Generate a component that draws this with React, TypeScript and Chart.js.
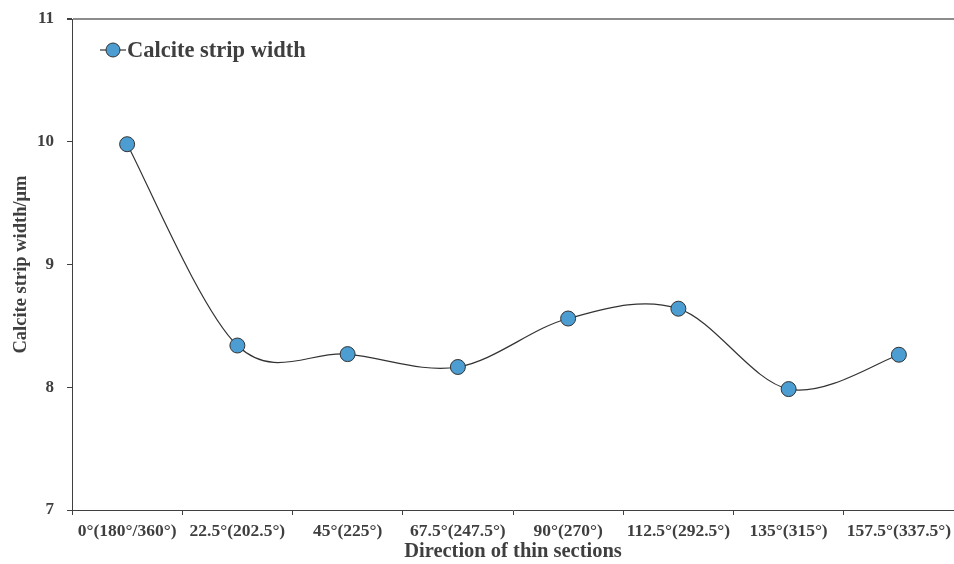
import React, { useEffect, useRef } from "react";
import { Chart, registerables } from "chart.js";

Chart.register(...registerables);

const directions = [
  "0°(180°/360°)",
  "22.5°(202.5°)",
  "45°(225°)",
  "67.5°(247.5°)",
  "90°(270°)",
  "112.5°(292.5°)",
  "135°(315°)",
  "157.5°(337.5°)",
];
const stripWidth = [9.98, 8.34, 8.27, 8.165, 8.56, 8.64, 7.985, 8.265];
const seriesName = "Calcite strip width";
const yTitle = "Calcite strip width/μm";
const xTitle = "Direction of thin sections";

const FONT = "'Liberation Serif', 'Times New Roman', serif";
const TEXT = "#3f3f3f";
const AXIS = "#404040";
const MARKER = "#4b9dd2";
const LINE = "#333333";

// Replace the default bezier control points with uniform Catmull-Rom ones
// (smoothed-line style), computed from the points' scaled positions.
const catmullRom = {
  id: "catmullRom",
  beforeDatasetsDraw(chart: any) {
    chart.data.datasets.forEach((_: any, di: number) => {
      const meta = chart.getDatasetMeta(di);
      const line = meta.dataset;
      if (!line) return;
      line.updateControlPoints(chart.chartArea, "x");
      const pts = meta.data;
      const n = pts.length;
      for (let i = 0; i < n; i++) {
        const p = pts[i];
        const prev = pts[Math.max(i - 1, 0)];
        const next = pts[Math.min(i + 1, n - 1)];
        const dx = (next.x - prev.x) / 6;
        const dy = (next.y - prev.y) / 6;
        p.cp1x = p.x - dx;
        p.cp1y = p.y - dy;
        p.cp2x = p.x + dx;
        p.cp2y = p.y + dy;
      }
    });
  },
};

// Legend drawn inside the plot area, top-left: line, marker and label
const insideLegend = {
  id: "insideLegend",
  afterDraw(chart: any) {
    const { ctx } = chart;
    const label = chart.data.datasets[0].label;
    const y = 50;
    ctx.save();
    ctx.strokeStyle = LINE;
    ctx.lineWidth = 1.2;
    ctx.beginPath();
    ctx.moveTo(100, y);
    ctx.lineTo(126, y);
    ctx.stroke();
    ctx.beginPath();
    ctx.arc(113, y, 7, 0, Math.PI * 2);
    ctx.fillStyle = MARKER;
    ctx.fill();
    ctx.lineWidth = 1;
    ctx.stroke();
    ctx.fillStyle = TEXT;
    ctx.font = `bold 22.5px ${FONT}`;
    ctx.textAlign = "left";
    ctx.textBaseline = "middle";
    ctx.fillText(label, 127, y + 1);
    ctx.restore();
  },
};

export default function App() {
  const canvasRef = useRef<HTMLCanvasElement | null>(null);

  useEffect(() => {
    if (!canvasRef.current) return;
    const chart = new Chart(canvasRef.current, {
      type: "line",
      data: {
        labels: directions,
        datasets: [
          {
            label: seriesName,
            data: stripWidth,
            borderColor: LINE,
            borderWidth: 1.2,
            tension: 0.4,
            pointRadius: 7.5,
            pointHoverRadius: 7.5,
            pointBackgroundColor: MARKER,
            pointBorderColor: LINE,
            pointBorderWidth: 1,
          },
        ],
      },
      options: {
        animation: false,
        responsive: false,
        layout: { autoPadding: false, padding: { top: 19, right: 0, bottom: 0, left: 0 } },
        plugins: {
          legend: { display: false },
          tooltip: { enabled: false },
        },
        scales: {
          x: {
            type: "category",
            offset: true,
            afterFit: (s: any) => {
              s.height = 54;
              s.paddingLeft = 0;
              s.paddingRight = 0;
            },
            grid: {
              offset: true,
              drawOnChartArea: false,
              tickLength: 5,
              tickColor: AXIS,
            },
            border: { color: AXIS, width: 1 },
            ticks: {
              autoSkip: false,
              maxRotation: 0,
              padding: 6,
              color: TEXT,
              font: { family: FONT, size: 17.5, weight: "bold" },
            },
            title: {
              display: true,
              text: xTitle,
              color: TEXT,
              padding: { top: 0, bottom: 0 },
              font: { family: FONT, size: 20.5, weight: "bold" },
            },
          },
          y: {
            min: 7,
            max: 11,
            afterFit: (s: any) => {
              s.width = 72;
              s.paddingTop = 0;
              s.paddingBottom = 0;
            },
            ticks: {
              stepSize: 1,
              padding: 13,
              color: TEXT,
              font: { family: FONT, size: 17, weight: "bold" },
            },
            grid: {
              drawOnChartArea: true,
              color: (c: any) => (c.tick && c.tick.value === 11 ? "#8c8c8c" : "rgba(0,0,0,0)"),
              lineWidth: (c: any) => (c.tick && c.tick.value === 11 ? 2 : 1),
              tickLength: 5,
              tickColor: AXIS,
            },
            border: { color: AXIS, width: 1 },
            title: {
              display: true,
              text: yTitle,
              color: TEXT,
              padding: { top: 10, bottom: 0 },
              font: { family: FONT, size: 18.5, weight: "bold" },
            },
          },
        },
      },
      plugins: [catmullRom, insideLegend],
    });
    return () => chart.destroy();
  }, []);

  return (
    <div style={{ position: "fixed", left: 0, top: 0, width: 954, height: 564, background: "#fff" }}>
      <canvas ref={canvasRef} width={954} height={564} />
    </div>
  );
}
